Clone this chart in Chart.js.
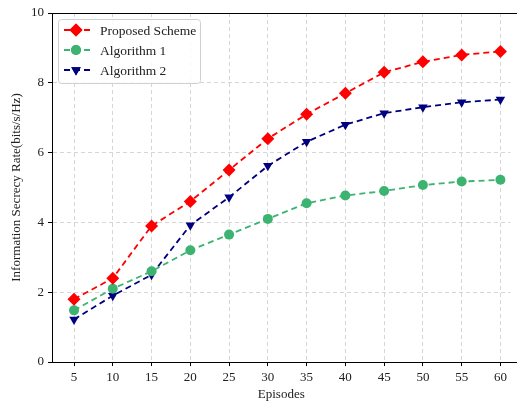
<!DOCTYPE html>
<html>
<head>
<meta charset="utf-8">
<script src="https://cdn.jsdelivr.net/npm/chart.js@4"></script>
<style>
  html, body { margin: 0; padding: 0; background: #fff; }
  #wrap { width: 517px; height: 402px; }
</style>
</head>
<body>
<div id="wrap"><canvas id="chart" width="517" height="402"></canvas></div>
<script>
const episodes = [5, 10, 15, 20, 25, 30, 35, 40, 45, 50, 55, 60];
const proposed = [1.8, 2.4, 3.9, 4.6, 5.5, 6.4, 7.1, 7.7, 8.3, 8.6, 8.8, 8.9];
const algorithm1 = [1.48, 2.1, 2.6, 3.2, 3.65, 4.1, 4.55, 4.77, 4.9, 5.07, 5.17, 5.22];
const algorithm2 = [1.22, 1.9, 2.5, 3.92, 4.72, 5.62, 6.31, 6.8, 7.13, 7.3, 7.44, 7.52];
const yTicks = [0, 2, 4, 6, 8, 10];

const serif = '"Liberation Serif", "Times New Roman", serif';

function pts(ys) {
    return episodes.map((x, i) => ({ x: x, y: ys[i] }));
}

function series(label, ys, color, style, radius, rotation) {
    return {
        label: label,
        data: pts(ys),
        borderColor: color,
        backgroundColor: color,
        borderWidth: 1.8,
        borderDash: [6, 4],
        pointStyle: style,
        pointRadius: radius,
        pointRotation: rotation,
        pointBorderWidth: 0,
        showLine: true,
        tension: 0
    };
}

// legend drawn inside the plot, top-left, like matplotlib
const innerLegend = {
    id: 'innerLegend',
    afterDraw(chart) {
        const ctx = chart.ctx;
        const area = chart.chartArea;
        ctx.save();
        // top border of the axes, runs off the right edge of the picture
        ctx.strokeStyle = '#000';
        ctx.lineWidth = 1;
        ctx.beginPath();
        ctx.moveTo(area.left, area.top + 0.5);
        ctx.lineTo(chart.width, area.top + 0.5);
        ctx.moveTo(area.right, area.bottom + 0.5);
        ctx.lineTo(chart.width, area.bottom + 0.5);
        ctx.stroke();

        const bx = area.left + 6, by = area.top + 6, bw = 142, bh = 64;
        ctx.fillStyle = 'rgba(255,255,255,0.85)';
        ctx.strokeStyle = '#d0d0d0';
        ctx.lineWidth = 1;
        ctx.beginPath();
        ctx.roundRect(bx + 0.5, by + 0.5, bw, bh, 3);
        ctx.fill();
        ctx.stroke();

        chart.data.datasets.forEach((ds, i) => {
            const y = by + 11 + i * 20;
            ctx.strokeStyle = ds.borderColor;
            ctx.lineWidth = 1.8;
            ctx.setLineDash([6, 4]);
            ctx.beginPath();
            ctx.moveTo(bx + 6, y);
            ctx.lineTo(bx + 34, y);
            ctx.stroke();
            ctx.setLineDash([]);
            ctx.fillStyle = ds.borderColor;
            Chart.helpers.drawPoint(ctx, {
                pointStyle: ds.pointStyle,
                radius: ds.pointRadius,
                rotation: ds.pointRotation,
                borderWidth: 0
            }, bx + 18, y);
            ctx.fill();
            ctx.fillStyle = '#222';
            ctx.font = '13.5px ' + serif;
            ctx.textBaseline = 'middle';
            ctx.textAlign = 'left';
            ctx.fillText(ds.label, bx + 42, y + 1);
        });
        ctx.restore();
    }
};

const ctx = document.getElementById('chart').getContext('2d');
new Chart(ctx, {
    type: 'scatter',
    data: {
        datasets: [
            series('Proposed Scheme', proposed, '#ff0000', 'rectRot', 6.5, 0),
            series('Algorithm 1', algorithm1, '#3cb371', 'circle', 5, 0),
            series('Algorithm 2', algorithm2, '#00007f', 'triangle', 5.5, 180)
        ]
    },
    options: {
        responsive: false,
        animation: false,
        layout: { padding: { top: 13, right: 0, left: 0, bottom: 0 } },
        plugins: {
            legend: { display: false },
            tooltip: { enabled: false }
        },
        scales: {
            x: {
                type: 'linear',
                min: 2.16,
                max: 61.3,
                afterBuildTicks: axis => { axis.ticks = episodes.map(v => ({ value: v })); },
                afterFit: axis => { axis.height = 40; },
                border: { color: '#000', width: 1, dash: [4, 3] },
                grid: {
                    color: '#d6d6d6',
                    tickColor: '#000',
                    tickLength: 4,
                    tickBorderDash: []
                },
                ticks: {
                    color: '#222',
                    font: { family: serif, size: 13 },
                    padding: 4,
                    maxRotation: 0
                },
                title: {
                    display: true,
                    text: 'Episodes',
                    color: '#222',
                    font: { family: serif, size: 13 },
                    padding: { top: 2, bottom: 0 }
                }
            },
            y: {
                min: 0,
                max: 10,
                afterBuildTicks: axis => { axis.ticks = yTicks.map(v => ({ value: v })); },
                afterFit: axis => { axis.width = 52; },
                border: { color: '#000', width: 1, dash: [4, 3] },
                grid: {
                    color: '#d6d6d6',
                    tickColor: '#000',
                    tickLength: 4,
                    tickBorderDash: []
                },
                ticks: {
                    color: '#222',
                    font: { family: serif, size: 13 },
                    padding: 4
                },
                title: {
                    display: true,
                    text: 'Information Secrecy Rate(bits/s/Hz)',
                    color: '#222',
                    font: { family: serif, size: 13 },
                    padding: { top: 9, bottom: 4 }
                }
            }
        }
    },
    plugins: [innerLegend]
});
</script>
</body>
</html>
